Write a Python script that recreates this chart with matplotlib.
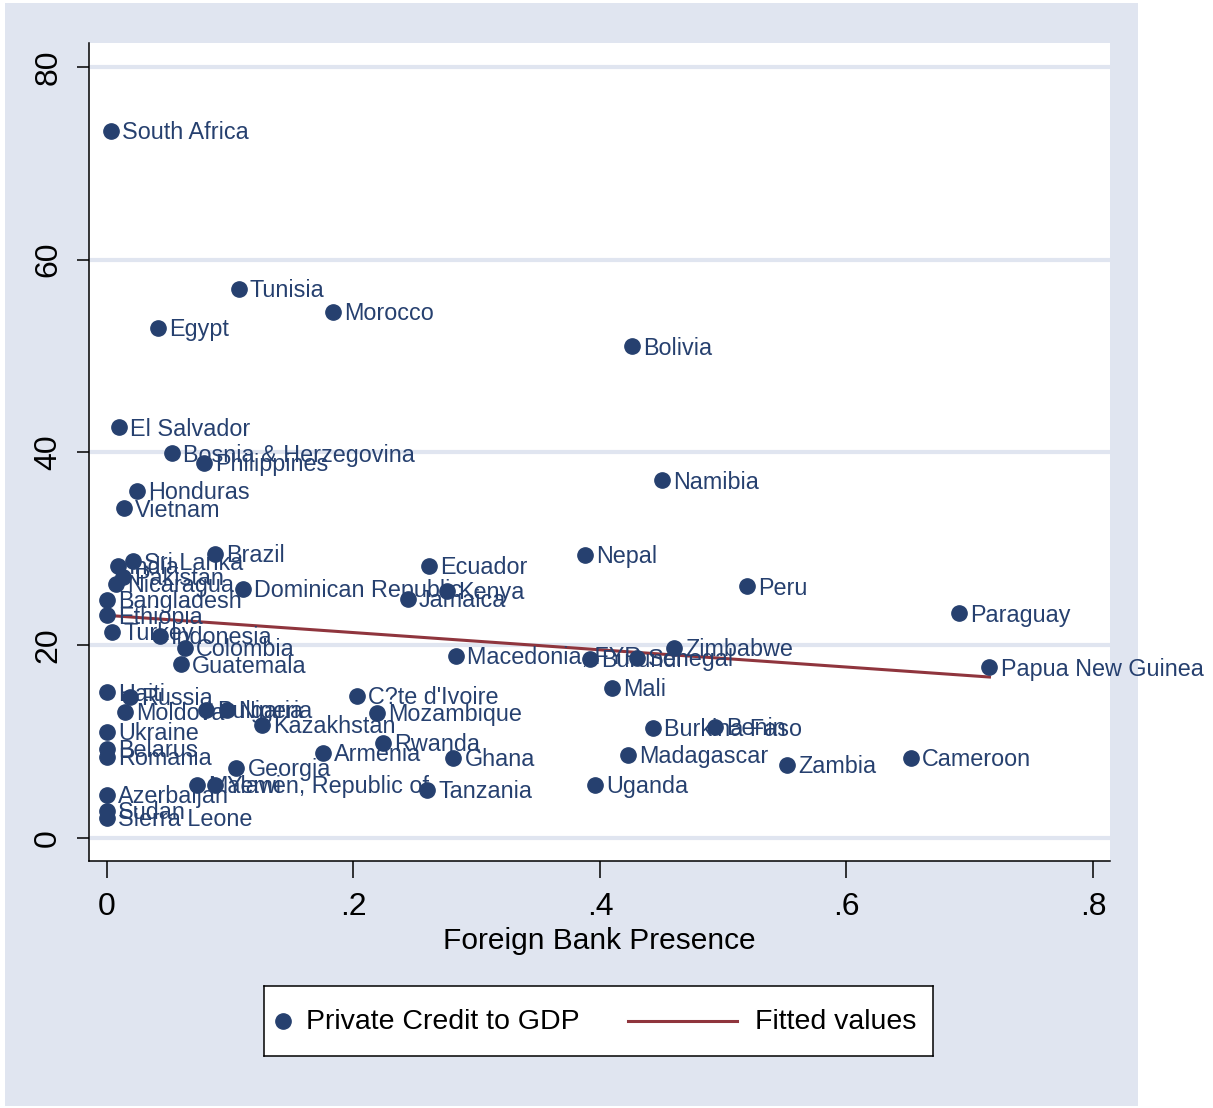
import matplotlib
matplotlib.use("Agg")
import matplotlib.pyplot as plt
from matplotlib.patches import Rectangle

# 国名・外資系銀行シェア・民間信用/GDP
countries = [
    "South Africa", "Tunisia", "Morocco", "Egypt", "Bolivia", "El Salvador",
    "Bosnia & Herzegovina", "Philippines", "Honduras", "Vietnam", "Namibia",
    "Brazil", "Sri Lanka", "India", "Nepal", "Ecuador", "Pakistan", "Nicaragua",
    "Dominican Republic", "Kenya", "Jamaica", "Peru", "Bangladesh", "Ethiopia",
    "Paraguay", "Turkey", "Indonesia", "Colombia", "Guatemala", "Macedonia, FYR",
    "Burundi", "Senegal", "Zimbabwe", "Papua New Guinea", "Mali", "Haiti",
    "Russia", "Moldova", "Bulgaria", "Nigeria", "C?te d'Ivoire", "Mozambique",
    "Kazakhstan", "Ukraine", "Burkina Faso", "Benin", "Rwanda", "Belarus",
    "Armenia", "Romania", "Ghana", "Madagascar", "Zambia", "Cameroon", "Georgia",
    "Malawi", "Yemen, Republic of", "Uganda", "Tanzania", "Azerbaijan", "Sudan",
    "Sierra Leone",
]
foreign_bank = [
    0.003, 0.107, 0.183, 0.041, 0.426, 0.010,
    0.053, 0.079, 0.024, 0.014, 0.450,
    0.088, 0.021, 0.009, 0.388, 0.261, 0.013, 0.007,
    0.110, 0.276, 0.244, 0.519, 0.000, 0.000,
    0.691, 0.004, 0.043, 0.063, 0.060, 0.283,
    0.392, 0.430, 0.460, 0.716, 0.410, 0.000,
    0.019, 0.015, 0.080, 0.097, 0.203, 0.219,
    0.126, 0.000, 0.443, 0.493, 0.224, 0.000,
    0.175, 0.000, 0.281, 0.423, 0.552, 0.652, 0.105,
    0.073, 0.088, 0.396, 0.260, 0.000, 0.000,
    0.000,
]
private_credit = [
    73.4, 57.0, 54.6, 52.9, 51.0, 42.6,
    39.9, 38.9, 36.0, 34.2, 37.1,
    29.5, 28.7, 28.2, 29.4, 28.2, 27.1, 26.4,
    25.8, 25.6, 24.8, 26.1, 24.7, 23.1,
    23.3, 21.4, 21.0, 19.7, 18.0, 18.9,
    18.6, 18.7, 19.7, 17.7, 15.6, 15.1,
    14.6, 13.1, 13.3, 13.3, 14.7, 13.0,
    11.7, 11.0, 11.4, 11.5, 9.9, 9.2,
    8.8, 8.4, 8.3, 8.6, 7.6, 8.3, 7.3,
    5.5, 5.5, 5.5, 5.0, 4.5, 2.8,
    2.1,
]
# 回帰直線の両端
fit_x = [0.0, 0.716]
fit_y = [23.1, 16.7]

x_ticks = [0, 0.2, 0.4, 0.6, 0.8]
x_ticklabels = ["0", ".2", ".4", ".6", ".8"]
y_ticks = [0, 20, 40, 60, 80]
legend_labels = ["Private Credit to GDP", "Fitted values"]

NAVY = "#26406f"
MAROON = "#8f353d"
PANEL = "#e0e5f0"
W, H = 1213, 1108

plt.rcParams["font.family"] = ["Liberation Sans", "DejaVu Sans"]

fig = plt.figure(figsize=(W / 100, H / 100), dpi=100)
fig.patch.set_facecolor("white")
# Stata風の背景パネル（軸より後ろに置く）
fig.patches.append(Rectangle((5 / W, 2 / H), 1133 / W, 1103 / H,
                             transform=fig.transFigure, facecolor=PANEL,
                             edgecolor="none", zorder=-10))

ax = fig.add_axes([89 / W, 1 - 861 / H, (1110 - 89) / W, (861 - 43) / H])
ax.set_facecolor("white")

for yt in y_ticks:
    ax.axhline(yt, color=PANEL, lw=3, zorder=1)

ax.plot(foreign_bank, private_credit, "o", color=NAVY, ms=11, mec=NAVY, zorder=3)
for name, xv, yv in zip(countries, foreign_bank, private_credit):
    ax.annotate(name, (xv, yv), xytext=(8, -1.2), textcoords="offset points",
                va="center", ha="left", fontsize=16.8, color=NAVY, zorder=4)

ax.plot(fit_x, fit_y, color=MAROON, lw=2.2, zorder=2)

ax.set_xlim(-0.0146, 0.8138)
ax.set_ylim(-2.39, 82.49)
ax.set_xticks(x_ticks)
ax.set_xticklabels(x_ticklabels)
ax.set_yticks(y_ticks)
ax.tick_params(axis="x", length=12, width=1.1, pad=10, labelsize=23)
ax.tick_params(axis="y", length=8.6, width=1.1, pad=10, labelsize=23, labelrotation=90)
for lab in ax.get_yticklabels():
    lab.set_va("center")
ax.spines["top"].set_visible(False)
ax.spines["right"].set_visible(False)
ax.spines["left"].set_linewidth(1.1)
ax.spines["bottom"].set_linewidth(1.1)
ax.set_xlabel("Foreign Bank Presence", fontsize=21.5, labelpad=4)

# 凡例は枠付きの小さな軸として自前で描く（ピクセル座標）
lax = fig.add_axes([264 / W, 1 - 1056 / H, (933 - 264) / W, (1056 - 986) / H])
lax.set_xlim(264, 933)
lax.set_ylim(1056, 986)
lax.set_xticks([])
lax.set_yticks([])
lax.set_facecolor("white")
for sp in lax.spines.values():
    sp.set_linewidth(1.1)
    sp.set_color("black")
lax.plot([283], [1021], "o", color=NAVY, ms=11)
lax.text(306, 1022, legend_labels[0], fontsize=20.5, va="center", ha="left")
lax.plot([628, 737], [1021, 1021], color=MAROON, lw=2.2)
lax.text(755, 1022, legend_labels[1], fontsize=20.5, va="center", ha="left")

fig.savefig("out.png", dpi=100, facecolor="white")
